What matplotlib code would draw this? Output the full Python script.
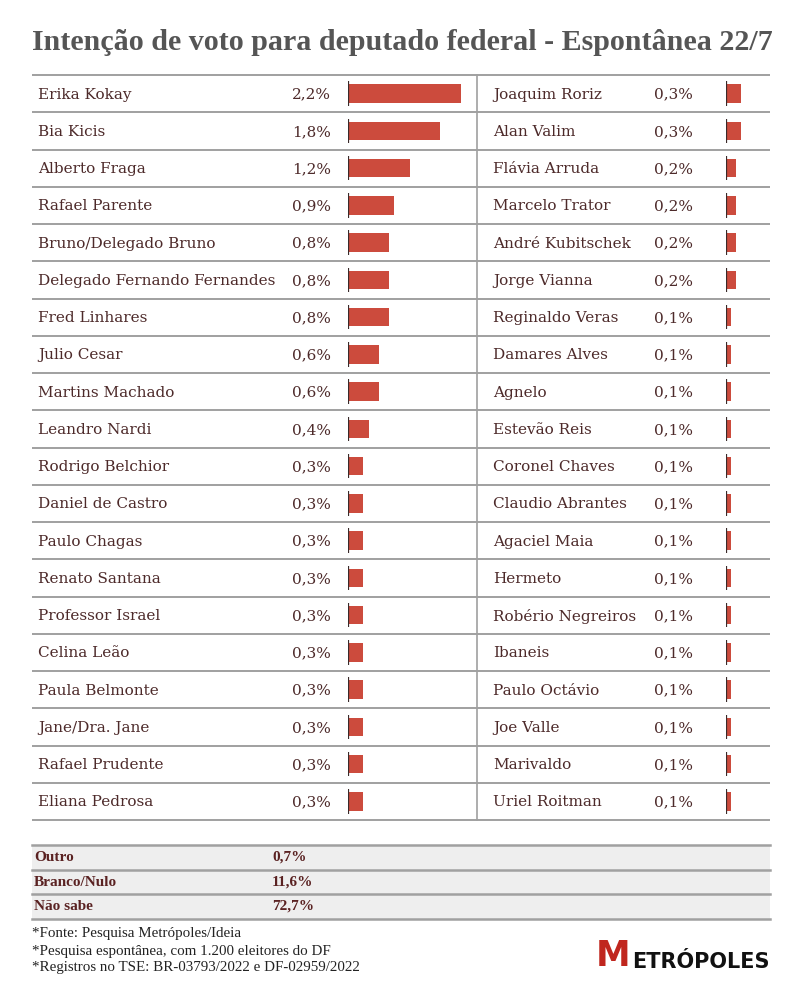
import matplotlib.pyplot as plt

# data
left_names = ["Erika Kokay", "Bia Kicis", "Alberto Fraga", "Rafael Parente",
              "Bruno/Delegado Bruno", "Delegado Fernando Fernandes", "Fred Linhares",
              "Julio Cesar", "Martins Machado", "Leandro Nardi", "Rodrigo Belchior",
              "Daniel de Castro", "Paulo Chagas", "Renato Santana", "Professor Israel",
              "Celina Leão", "Paula Belmonte", "Jane/Dra. Jane", "Rafael Prudente",
              "Eliana Pedrosa"]
left_values = [2.2, 1.8, 1.2, 0.9, 0.8, 0.8, 0.8, 0.6, 0.6, 0.4,
               0.3, 0.3, 0.3, 0.3, 0.3, 0.3, 0.3, 0.3, 0.3, 0.3]
right_names = ["Joaquim Roriz", "Alan Valim", "Flávia Arruda", "Marcelo Trator",
               "André Kubitschek", "Jorge Vianna", "Reginaldo Veras", "Damares Alves",
               "Agnelo", "Estevão Reis", "Coronel Chaves", "Claudio Abrantes",
               "Agaciel Maia", "Hermeto", "Robério Negreiros", "Ibaneis",
               "Paulo Octávio", "Joe Valle", "Marivaldo", "Uriel Roitman"]
right_values = [0.3, 0.3, 0.2, 0.2, 0.2, 0.2, 0.1, 0.1, 0.1, 0.1,
                0.1, 0.1, 0.1, 0.1, 0.1, 0.1, 0.1, 0.1, 0.1, 0.1]
other_labels = ["Outro", "Branco/Nulo", "Não sabe"]
other_values = [0.7, 11.6, 72.7]
notes = ["*Fonte: Pesquisa Metrópoles/Ideia",
         "*Pesquisa espontânea, com 1.200 eleitores do DF",
         "*Registros no TSE: BR-03793/2022 e DF-02959/2022"]

def fmt(v):
    return f"{v:.1f}%".replace(".", ",")

W, H = 800, 1000
fig = plt.figure(figsize=(8, 10), dpi=100)
bg = fig.add_axes([0, 0, 1, 1])
bg.set_xlim(0, W)
bg.set_ylim(H, 0)
bg.axis("off")

txt = "#4d2a2a"
bar_c = "#cc4b3d"
line_c = "#a0a0a0"
serif = ["DejaVu Serif"]
fs = 11.0

bg.text(32, 42, "Intenção de voto para deputado federal - Espontânea 22/7",
        fontsize=21.6, fontweight="bold", color="#555555", family=["Liberation Serif"],
        va="center", ha="left")

top, bottom = 75, 820
n = len(left_names)
rh = (bottom - top) / n
for i in range(n + 1):
    y = top + i * rh
    bg.plot([32, 770], [y, y], color=line_c, lw=1.4, solid_capstyle="butt")
bg.plot([477, 477], [top, bottom], color=line_c, lw=1.2)

for i in range(n):
    yc = top + (i + 0.5) * rh + 1
    bg.text(38, yc, left_names[i], fontsize=fs, color=txt, family=serif, va="center")
    bg.text(331, yc, fmt(left_values[i]), fontsize=fs, color=txt, family=serif,
            va="center", ha="right")
    bg.text(493, yc, right_names[i], fontsize=fs, color=txt, family=serif, va="center")
    bg.text(693, yc, fmt(right_values[i]), fontsize=fs, color=txt, family=serif,
            va="center", ha="right")

scale = 51.3  # px per 1%
def bar_axes(x0, x1, names, values):
    ax = fig.add_axes([x0 / W, 1 - bottom / H, (x1 - x0) / W, (bottom - top) / H])
    ax.set_xlim(0, (x1 - x0) / scale)
    ax.set_ylim(len(names), 0)
    ys = [i + 0.5 for i in range(len(names))]
    ax.barh(ys, values, height=0.5, color=bar_c)
    ax.vlines([0] * len(ys), [y - 0.33 for y in ys], [y + 0.33 for y in ys],
              color="#3a2a2a", lw=1.6)
    ax.axis("off")
    return ax

bar_axes(348, 475, left_names, left_values)
bar_axes(726, 772, right_names, right_values)

# lower table
ly = [845, 870, 894, 919]
bg.fill_between([32, 770], ly[0], ly[-1], color="#eeeeee", lw=0)
for y in ly:
    bg.plot([32, 770], [y, y], color=line_c, lw=1.8)
for i, (lab, v) in enumerate(zip(other_labels, other_values)):
    yc = (ly[i] + ly[i + 1]) / 2
    bg.text(34, yc, lab, fontsize=11, color="#5a2222", family=["Liberation Serif"],
            va="center", fontweight="bold")
    bg.text(272, yc, fmt(v), fontsize=11, color="#5a2222", family=["Liberation Serif"],
            va="center", fontweight="bold")

for i, s in enumerate(notes):
    bg.text(32, 934 + i * 17, s, fontsize=10.8, color="#222222",
            family=["Liberation Serif"], va="center")

# logo
bg.text(596, 956, "M", fontsize=25, fontweight="bold", color="#c0261e",
        family=["DejaVu Sans"], va="center", ha="left")
bg.text(632, 962, "ETRÓPOLES", fontsize=15, fontweight="bold", color="#111111",
        family=["DejaVu Sans"], va="center", ha="left")

fig.savefig("out.png", dpi=100, facecolor="white")
